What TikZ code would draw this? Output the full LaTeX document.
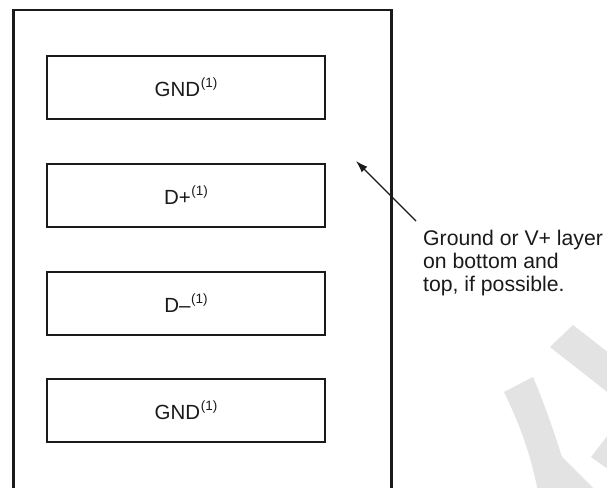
\documentclass[tikz,border=0pt]{standalone}
\usepackage{fontspec}
\setmainfont{Liberation Sans}
\usetikzlibrary{arrows.meta}
\definecolor{wmgray}{HTML}{E3E3E3}
\definecolor{inkc}{HTML}{1A1A1A}
\newcommand{\layernote}{\kern0.5pt\raisebox{9pt}{\fontsize{13.5}{13.5}\selectfont(1)}}
\begin{document}
\begin{tikzpicture}[x=1pt,y=-1pt,
  layerbox/.style={draw=inkc, line width=2pt, minimum width=278pt, minimum height=63pt,
    inner sep=0pt, font=\fontsize{20.5}{24}\selectfont, text=inkc},
  outerbox/.style={draw=inkc, line width=2.5pt, inner sep=0pt},
  notetext/.style={align=left, inner sep=0pt, anchor=north west,
    font=\fontsize{21.2}{23}\selectfont, text=inkc},
  pointer/.style={draw=inkc, line width=1.1pt, -{Latex[length=12pt,width=8pt]}},
  watermark/.style={fill=wmgray, draw=none}]
\clip (0,0) rectangle (607,487);
\fill[white] (0,0) rectangle (607,487);
% watermark fragments
\fill[watermark] (550,347) -- (573,325) -- (620,361.7) -- (620,402) -- cycle;
\fill[watermark] (504,392) -- (533,377) .. controls (545,405) and (555,435) .. (562,457)
  -- (597,492) -- (538,492) .. controls (531,455) and (520,425) .. (504,392) -- cycle;
\fill[watermark] (591,457) -- (612,430) -- (612,472) -- cycle;
% outer board
\node[outerbox, minimum width=378pt, minimum height=490pt, anchor=north west] (board) at (12,9) {};
% layers
\node[layerbox] (gnd1) at (186,87.5) {GND\layernote};
\node[layerbox] (dp) at (186,195.5) {D+\layernote};
\node[layerbox] (dm) at (186,303.5) {D–\layernote};
\node[layerbox] (gnd2) at (186,410.5) {GND\layernote};
% note
\node[notetext] (note) at (423,230) {Ground or V+ layer\\on bottom and\\top, if possible.};
\coordinate (tip) at (356,161);
\draw[pointer] ([shift={(-7,-9)}]note.north west) -- (tip);
\end{tikzpicture}
\end{document}
